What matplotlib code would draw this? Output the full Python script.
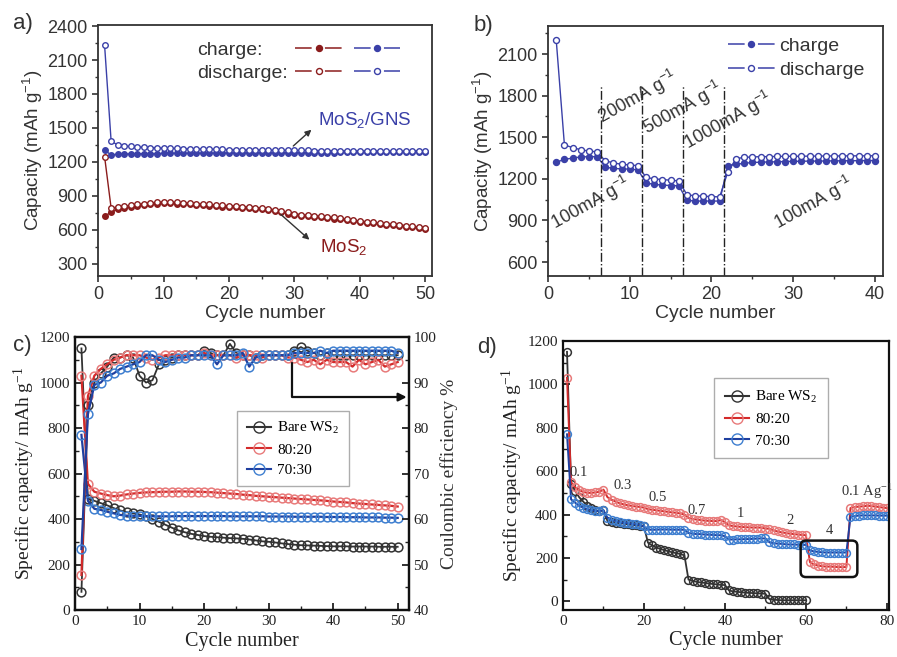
import matplotlib.pyplot as plt
import numpy as np
from matplotlib.lines import Line2D
from matplotlib.patches import FancyBboxPatch
from matplotlib.ticker import MultipleLocator

plt.rcParams['mathtext.default'] = 'regular'

# ---------------- data ----------------
# a) MoS2/GNS vs MoS2, 50 cycles
cyc_a = np.arange(1, 51)
gns_dis = [2230, 1380, 1350, 1340, 1335, 1330, 1330, 1325, 1325, 1320, 1320, 1318, 1316, 1315, 1314,
           1313, 1312, 1310, 1310, 1308, 1307, 1306, 1305, 1305, 1304, 1303, 1302, 1302, 1301, 1300,
           1300, 1300, 1299, 1299, 1298, 1298, 1298, 1297, 1297, 1296, 1296, 1296, 1295, 1295, 1295,
           1294, 1294, 1296, 1297, 1298]
gns_chg = [1300, 1262, 1266, 1268, 1270, 1271, 1272, 1273, 1273, 1274, 1274, 1275, 1275, 1276, 1276,
           1276, 1277, 1277, 1277, 1278, 1278, 1278, 1278, 1279, 1279, 1279, 1279, 1280, 1280, 1280,
           1280, 1280, 1281, 1281, 1281, 1281, 1282, 1282, 1282, 1282, 1283, 1283, 1283, 1283, 1284,
           1284, 1284, 1285, 1286, 1287]
mos_dis = [1245, 790, 800, 808, 815, 822, 830, 836, 842, 845, 843, 840, 837, 834, 830, 826, 822, 818,
           815, 812, 808, 804, 800, 795, 790, 784, 775, 765, 752, 740, 733, 727, 722, 718, 714, 708,
           700, 692, 684, 676, 670, 664, 658, 652, 647, 642, 636, 630, 622, 615]
mos_chg = [720, 752, 780, 790, 800, 808, 816, 822, 828, 832, 831, 828, 825, 822, 818, 814, 810, 806,
           803, 800, 796, 792, 788, 783, 778, 772, 763, 753, 741, 730, 723, 717, 712, 708, 704, 698,
           690, 682, 674, 667, 661, 655, 649, 643, 638, 633, 627, 621, 613, 606]

# b) rate test, 40 cycles
cyc_b = np.arange(1, 41)
rate_dis = [2200, 1445, 1425, 1410, 1400, 1395, 1330, 1315, 1305, 1300, 1295, 1210, 1200, 1195, 1190,
            1185, 1085, 1078, 1075, 1072, 1070, 1250, 1345, 1355, 1358, 1360, 1360, 1362, 1362, 1363,
            1363, 1364, 1364, 1365, 1365, 1365, 1366, 1366, 1366, 1367]
rate_chg = [1320, 1340, 1350, 1358, 1360, 1360, 1285, 1275, 1272, 1270, 1265, 1170, 1160, 1155, 1152,
            1150, 1045, 1040, 1040, 1040, 1040, 1295, 1305, 1312, 1318, 1320, 1322, 1323, 1325, 1326,
            1327, 1328, 1328, 1329, 1330, 1330, 1331, 1331, 1332, 1332]
rate_bounds = [6.5, 11.5, 16.5, 21.5]
rate_labels = ['100mA g$^{-1}$', '200mA g$^{-1}$', '500mA g$^{-1}$', '1000mA g$^{-1}$', '100mA g$^{-1}$']
rate_label_xy = [(0.9, 830), (6.6, 1600), (12.1, 1515), (17.1, 1410), (28.1, 830)]

# c) cycling + coulombic efficiency, 50 cycles
cyc_c = np.arange(1, 51)
bare_cap = [1150, 490, 480, 470, 460, 448, 438, 430, 425, 420, 412, 400, 388, 375, 362, 350, 342, 335,
            330, 325, 322, 320, 318, 316, 315, 313, 310, 306, 302, 300, 297, 293, 290, 287, 285, 284,
            283, 282, 281, 280, 280, 280, 279, 279, 279, 279, 278, 278, 278, 278]
r82_cap = [1030, 555, 520, 512, 505, 500, 503, 508, 512, 515, 517, 518, 519, 520, 520, 521, 521, 520,
           520, 519, 518, 516, 514, 512, 510, 507, 505, 502, 500, 498, 496, 494, 492, 490, 488, 486,
           484, 482, 480, 477, 475, 473, 470, 468, 466, 464, 462, 460, 458, 455]
r73_cap = [770, 480, 445, 440, 432, 425, 418, 415, 414, 414, 413, 412, 412, 412, 412, 413, 413, 413,
           413, 413, 413, 413, 413, 412, 412, 412, 412, 412, 412, 411, 411, 411, 411, 410, 410, 410,
           410, 410, 409, 409, 409, 408, 408, 408, 407, 407, 407, 406, 406, 405]
bare_ce = [44, 85, 90, 92, 93.5, 95.5, 95.5, 96, 95.5, 91.5, 90, 90.5, 94, 95, 95.5, 96, 96, 96, 96, 97,
           96.5, 96, 96, 98.5, 96.5, 96, 96, 95.5, 96, 96, 96, 96, 96, 97, 97.8, 97, 96.5, 96, 96.5, 96,
           96, 96, 96, 96, 96, 96, 96, 96, 96, 96]
r82_ce = [47.7, 87, 91.5, 93, 94, 95, 95.5, 96, 96, 96, 95.5, 95, 95.5, 96, 96, 96, 96, 96, 96, 96.5,
          96, 96, 96, 96, 95.5, 96, 96, 96, 95.5, 96, 96, 96, 95.5, 95.5, 95, 94.5, 95, 94, 95, 94.5,
          94.5, 94.5, 93.5, 95, 94, 94.5, 95, 93.5, 94, 94.5]
r73_ce = [53.4, 83, 89.5, 90, 91.5, 92, 93, 93.5, 94, 94.5, 96, 96, 95, 94.5, 95, 95.5, 95.5, 96, 96, 96,
          96, 94, 96, 96, 96, 96.5, 93.5, 95.5, 96, 96, 96, 96, 96, 96.5, 96.5, 96.5, 96.5, 97, 96.5, 97,
          97, 97, 97, 97, 97, 97, 97, 97, 97, 96.5]

# d) rate capability, 80 cycles (bare WS2 only to 60)
cyc_d = np.arange(1, 81)
bare_rate = [1150, 540, 510, 480, 460, 440, 430, 420, 415, 420, 370, 365, 362, 360, 358, 355, 352, 350,
             348, 345, 270, 258, 248, 242, 236, 231, 226, 222, 218, 212, 100, 95, 90, 87, 85, 82, 80, 78,
             76, 75, 50, 46, 44, 42, 40, 39, 38, 37, 36, 35, 10, 8, 6, 5, 5, 5, 5, 5, 5, 5]
r82_rate = [1030, 550, 525, 512, 505, 500, 500, 502, 505, 515, 480, 468, 460, 452, 447, 443, 440, 437,
            435, 432, 425, 422, 420, 417, 415, 412, 410, 408, 405, 400, 385, 380, 377, 375, 372, 371,
            370, 370, 375, 365, 350, 347, 345, 343, 342, 341, 340, 340, 340, 335, 335, 327, 322, 318,
            315, 312, 310, 308, 306, 305, 180, 170, 165, 162, 160, 160, 159, 158, 158, 158, 430, 435,
            436, 438, 440, 440, 437, 435, 432, 430]
r73_rate = [770, 470, 455, 440, 432, 425, 420, 417, 415, 420, 385, 375, 370, 365, 362, 360, 357, 355,
            352, 345, 330, 330, 330, 331, 331, 331, 330, 330, 330, 330, 315, 312, 310, 310, 308, 307,
            306, 305, 305, 300, 285, 285, 286, 286, 287, 287, 288, 289, 290, 290, 272, 268, 266, 265,
            263, 262, 262, 261, 260, 260, 235, 230, 228, 226, 225, 225, 225, 225, 225, 225, 390, 393,
            395, 396, 396, 396, 396, 395, 395, 395]
d_labels = ['0.1', '0.3', '0.5', '0.7', '1', '2', '4', '0.1 Ag$^{-1}$']
d_label_xy = [(4.0, 595), (14.8, 535), (23.5, 480), (33.0, 418), (43.7, 404), (56.0, 372), (65.8, 326), (75.0, 505)]

# ---------------- styles ----------------
gray = '#333333'
dred = '#8b1c1c'
dblue = '#3a40a8'
sans = 'Liberation Sans'
serif = 'Liberation Serif'

fig = plt.figure(figsize=(8.97, 6.57), dpi=100)


def style_sans(ax):
    for s in ax.spines.values():
        s.set_color(gray)
        s.set_linewidth(1.3)
    ax.tick_params(which='both', direction='out', colors=gray, labelsize=13, top=False, right=False)
    ax.tick_params(which='major', length=4, width=1.2)
    ax.tick_params(which='minor', length=2.5, width=1.0)
    for lab in ax.get_xticklabels() + ax.get_yticklabels():
        lab.set_fontfamily(sans)


def style_serif(ax, right=False):
    for s in ax.spines.values():
        s.set_color('#111111')
        s.set_linewidth(1.6)
    ax.tick_params(which='both', direction='in', colors='#222222', labelsize=11, top=False,
                   right=False, left=not right, labelleft=not right, labelright=right)
    if right:
        ax.tick_params(which='both', right=True)
    ax.tick_params(which='major', length=5, width=1.3)
    ax.tick_params(which='minor', length=3, width=1.0)
    for lab in ax.get_xticklabels() + ax.get_yticklabels():
        lab.set_fontfamily(serif)


# ---------------- a ----------------
ax = fig.add_axes([0.1093, 0.580, 0.3723, 0.382])
ax.plot(cyc_a, mos_chg, '-o', color=dred, ms=4, lw=1, mew=1)
ax.plot(cyc_a, mos_dis, '-o', color=dred, ms=4, lw=1, mew=1, mfc='white')
ax.plot(cyc_a, gns_chg, '-o', color=dblue, ms=4, lw=1, mew=1)
ax.plot(cyc_a, gns_dis, '-o', color=dblue, ms=4, lw=1, mew=1, mfc='white')
ax.set_xlim(0, 51)
ax.set_ylim(190, 2410)
ax.xaxis.set_major_locator(MultipleLocator(10))
ax.xaxis.set_minor_locator(MultipleLocator(5))
ax.set_yticks(np.arange(300, 2401, 300))
ax.yaxis.set_minor_locator(MultipleLocator(150))
ax.set_xlabel('Cycle number', fontsize=14, family=sans, color=gray, labelpad=1)
ax.set_ylabel('Capacity (mAh g$^{-1}$)', fontsize=13.5, family=sans, color=gray, labelpad=2)
style_sans(ax)
ax.text(33.6, 1570, 'MoS$_2$/GNS', fontsize=13.5, family=sans, color=dblue, va='center')
ax.annotate('', xy=(32.9, 1500), xytext=(29.5, 1323),
            arrowprops=dict(arrowstyle='-|>', color=gray, lw=1, mutation_scale=9))
ax.text(33.9, 450, 'MoS$_2$', fontsize=13.5, family=sans, color=dred, va='center')
ax.annotate('', xy=(32.6, 494), xytext=(27.6, 750),
            arrowprops=dict(arrowstyle='-|>', color=gray, lw=1, mutation_scale=9))
# legend sample: dash - gap (marker) - dash over the full handle length
dash = (0, (10.9, 8.7))
blank = Line2D([], [], ls='none')
h_a = [blank, blank,
       Line2D([], [], color=dred, marker='o', ms=4.3, ls=dash, lw=1.1),
       Line2D([], [], color=dred, marker='o', ms=4.3, ls=dash, lw=1.1, mfc='white'),
       Line2D([], [], color=dblue, marker='o', ms=4.3, ls=dash, lw=1.1),
       Line2D([], [], color=dblue, marker='o', ms=4.3, ls=dash, lw=1.1, mfc='white')]
leg = ax.legend(h_a, ['charge:', 'discharge:', '', '', '', ''], ncol=3, frameon=False,
                loc='upper left', bbox_to_anchor=(0.092, 1.005), handlelength=2.4, handletextpad=0.2,
                columnspacing=0.4, labelspacing=0.3, prop={'family': sans, 'size': 14})
for t in leg.get_texts():
    t.set_color(gray)

# ---------------- b ----------------
ax = fig.add_axes([0.611, 0.580, 0.3735, 0.380])
ax.plot(cyc_b, rate_chg, '-o', color=dblue, ms=4.3, lw=1, mew=1)
ax.plot(cyc_b, rate_dis, '-o', color=dblue, ms=4.3, lw=1, mew=1, mfc='white')
ax.vlines(rate_bounds, 500, 1870, colors='#222222', linestyles='dashdot', lw=1)
for lab, (x, y) in zip(rate_labels, rate_label_xy):
    ax.text(x, y, lab, rotation=29, fontsize=13, family=sans, color=gray, rotation_mode='anchor')
ax.set_xlim(0, 41)
ax.set_ylim(500, 2300)
ax.xaxis.set_major_locator(MultipleLocator(10))
ax.xaxis.set_minor_locator(MultipleLocator(5))
ax.set_yticks(np.arange(600, 2101, 300))
ax.yaxis.set_minor_locator(MultipleLocator(150))
ax.set_xlabel('Cycle number', fontsize=14, family=sans, color=gray, labelpad=1)
ax.set_ylabel('Capacity (mAh g$^{-1}$)', fontsize=13.5, family=sans, color=gray, labelpad=2)
style_sans(ax)
h_b = [Line2D([], [], color=dblue, marker='o', ms=4.3, ls=dash, lw=1.1),
       Line2D([], [], color=dblue, marker='o', ms=4.3, ls=dash, lw=1.1, mfc='white')]
leg = ax.legend(h_b, ['charge', 'discharge'], frameon=False, loc='upper left',
                bbox_to_anchor=(0.485, 1.025), handlelength=2.4, handletextpad=0.25, labelspacing=0.3,
                prop={'family': sans, 'size': 14})
for t in leg.get_texts():
    t.set_color(gray)

# ---------------- c ----------------
c_black = '#333333'
c_red = '#e87a7a'
c_blue = '#3f7fd0'
l_red = '#d42a2a'
l_blue = '#1f3f9f'
ax = fig.add_axes([0.0836, 0.0715, 0.372, 0.4155])
ax2 = ax.twinx()
ax.plot(cyc_c, bare_cap, '-o', color=c_black, ms=6.3, lw=1.3, mew=1.1, mfc='none')
ax.plot(cyc_c, r82_cap, '-', color=l_red, lw=1.6)
ax.plot(cyc_c, r82_cap, 'o', color=c_red, ms=6.3, mew=1.1, mfc='none')
ax.plot(cyc_c, r73_cap, '-', color=l_blue, lw=1.6)
ax.plot(cyc_c, r73_cap, 'o', color=c_blue, ms=6.3, mew=1.1, mfc='none')
ax2.plot(cyc_c, bare_ce, '-o', color=c_black, ms=6.3, lw=1.3, mew=1.1, mfc='none')
ax2.plot(cyc_c, r82_ce, '-', color=l_red, lw=1.6)
ax2.plot(cyc_c, r82_ce, 'o', color=c_red, ms=6.3, mew=1.1, mfc='none')
ax2.plot(cyc_c, r73_ce, '-', color=l_blue, lw=1.6)
ax2.plot(cyc_c, r73_ce, 'o', color=c_blue, ms=6.3, mew=1.1, mfc='none')
ax.set_xlim(0, 51.7)
ax.set_ylim(0, 1200)
ax2.set_ylim(40, 100)
ax.xaxis.set_major_locator(MultipleLocator(10))
ax.xaxis.set_minor_locator(MultipleLocator(5))
ax.yaxis.set_major_locator(MultipleLocator(200))
ax.yaxis.set_minor_locator(MultipleLocator(100))
ax2.yaxis.set_major_locator(MultipleLocator(10))
ax2.yaxis.set_minor_locator(MultipleLocator(5))
ax.set_xlabel('Cycle number', fontsize=14.5, family=serif, color='#222222', labelpad=3)
ax.set_ylabel('Specific capacity/ mAh g$^{-1}$', fontsize=14, family=serif, color='#222222', labelpad=2)
ax2.set_ylabel('Coulombic efficiency %', fontsize=14, family=serif, color='#333333', labelpad=3)
style_serif(ax)
style_serif(ax2, right=True)
ax2.annotate('', xy=(51.4, 86.8), xytext=(33.7, 94.3),
             arrowprops=dict(arrowstyle='-|>', color='#111111', lw=1.6, mutation_scale=12,
                             connectionstyle='angle,angleA=90,angleB=0,rad=0', shrinkA=0, shrinkB=0))
h_c = [Line2D([], [], color=c_black, marker='o', ms=8, mfc='none', lw=1.5),
       Line2D([], [], color=l_red, marker='o', ms=8, mfc='none', mec=c_red, lw=1.5),
       Line2D([], [], color=l_blue, marker='o', ms=8, mfc='none', mec=c_blue, lw=1.5)]
ax.legend(h_c, ['Bare WS$_2$', '80:20', '70:30'], loc='upper left', bbox_to_anchor=(0.464, 0.758),
          fancybox=False, edgecolor='#999999', handlelength=1.6, handletextpad=0.4,
          labelspacing=0.45, borderpad=0.6, prop={'family': serif, 'size': 11})

# ---------------- d ----------------
ax = fig.add_axes([0.6276, 0.0715, 0.3634, 0.4095])
ax.plot(cyc_d[:len(bare_rate)], bare_rate, '-o', color=c_black, ms=5.6, lw=1.3, mew=1.1, mfc='none')
ax.plot(cyc_d, r82_rate, '-', color=l_red, lw=1.4)
ax.plot(cyc_d, r82_rate, 'o', color=c_red, ms=5.6, mew=1.1, mfc='none')
ax.plot(cyc_d, r73_rate, '-', color=l_blue, lw=1.4)
ax.plot(cyc_d, r73_rate, 'o', color=c_blue, ms=5.6, mew=1.1, mfc='none')
for lab, (x, y) in zip(d_labels, d_label_xy):
    ax.text(x, y, lab, fontsize=10.5, family=serif, color='#333333', ha='center', va='center')
ax.add_patch(FancyBboxPatch((58.7, 112), 14, 168, boxstyle='round,pad=0,rounding_size=1.3',
                            mutation_aspect=18.6, fill=False, ec='#111111', lw=1.8, zorder=5))
ax.set_xlim(0, 80.5)
ax.set_ylim(-40, 1200)
ax.xaxis.set_major_locator(MultipleLocator(20))
ax.xaxis.set_minor_locator(MultipleLocator(10))
ax.yaxis.set_major_locator(MultipleLocator(200))
ax.yaxis.set_minor_locator(MultipleLocator(100))
ax.set_xlabel('Cycle number', fontsize=14.5, family=serif, color='#222222', labelpad=2)
ax.set_ylabel('Specific capacity/ mAh g$^{-1}$', fontsize=14, family=serif, color='#222222', labelpad=2)
style_serif(ax)
ax.legend(h_c, ['Bare WS$_2$', '80:20', '70:30'], loc='upper left', bbox_to_anchor=(0.44, 0.89),
          fancybox=False, edgecolor='#999999', handlelength=1.6, handletextpad=0.4,
          labelspacing=0.5, borderpad=0.7, prop={'family': serif, 'size': 11})

# panel letters
for lab, (px, py) in zip(['a)', 'b)', 'c)', 'd)'], [(23, 23), (483, 25), (22, 346), (487, 347)]):
    fig.text(px / 897, 1 - py / 657, lab, fontsize=16, family=sans, color=gray, ha='center', va='center')

fig.savefig('out.png', dpi=100)
